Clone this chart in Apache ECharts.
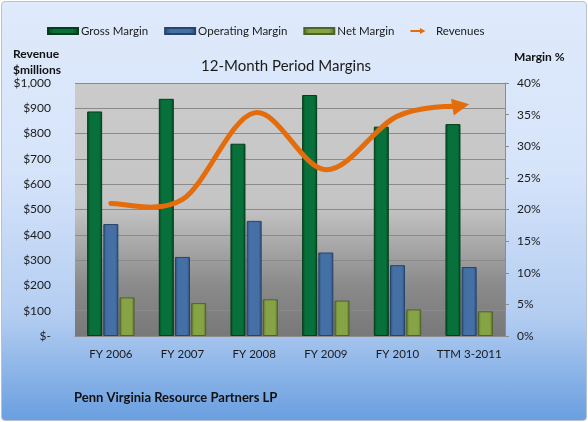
<!DOCTYPE html>
<html><head><meta charset="utf-8">
<script src="https://cdn.jsdelivr.net/npm/echarts@6/dist/echarts.min.js"></script>
<style>
html,body{margin:0;padding:0;background:#fff;}
#wrap{position:absolute;left:1px;top:1px;width:584px;height:418px;border:1px solid #b9c3cf;border-radius:4px;
background:linear-gradient(to bottom,#dfeafb 0%,#d6e4fa 40%,#b3cdf1 75%,#6a9fe0 100%);}
#c{width:586px;height:420px;position:absolute;left:-1px;top:-1px;}
</style></head>
<body><div id="wrap"><div id="c"></div></div>
<script>
const categories = ['FY 2006','FY 2007','FY 2008','FY 2009','FY 2010','TTM 3-2011'];
const grossMargin = [35.5, 37.5, 30.4, 38.1, 33.1, 33.5];
const operatingMargin = [17.7, 12.5, 18.2, 13.2, 11.2, 10.9];
const netMargin = [6.1, 5.2, 5.8, 5.6, 4.2, 3.9];
const revenues = [524, 540, 882, 657, 869, 916];
const revenueTicks = [0,100,200,300,400,500,600,700,800,900,1000];
const marginTicks = [0,5,10,15,20,25,30,35,40];

const FONT = 'Lato, "Open Sans", sans-serif';
const ORANGE = '#e46c0a';
function hgrad(edge, mid){
  return new echarts.graphic.LinearGradient(0,0,1,0,[
    {offset:0,color:edge},{offset:0.2,color:mid},{offset:0.8,color:mid},{offset:1,color:edge}]);
}
// Smooth revenue curve (Catmull-Rom through the scaled data points) ending with an arrow head
function renderRevenue(params, api){
  if (params.dataIndex !== 0) return null;
  const P = revenues.map((v,i)=>api.coord([i, v]));
  const n = P.length;
  const g = i => P[Math.max(0, Math.min(n-1, i))];
  const last = P[n-1], prev = P[n-2];
  let dx = last[0]-prev[0], dy = last[1]-prev[1];
  const L = Math.hypot(dx, dy); dx/=L; dy/=L;
  const headLen = 17, headHalf = 8.5;
  const base = [last[0]-dx*headLen*0.7, last[1]-dy*headLen*0.7];
  let d = 'M'+P[0][0]+','+P[0][1];
  for (let i=0;i<n-1;i++){
    const p0=g(i-1), p1=g(i), p2=g(i+1), p3=g(i+2);
    const c1=[p1[0]+(p2[0]-p0[0])/6, p1[1]+(p2[1]-p0[1])/6];
    const c2=[p2[0]-(p3[0]-p1[0])/6, p2[1]-(p3[1]-p1[1])/6];
    const e = (i===n-2) ? base : p2;
    d += ' C'+c1[0]+','+c1[1]+' '+c2[0]+','+c2[1]+' '+e[0]+','+e[1];
  }
  const hb = [last[0]-dx*headLen, last[1]-dy*headLen];
  const nx = -dy, ny = dx;
  return {type:'group', children:[
    {type:'path', shape:{pathData:d}, style:{fill:'none', stroke:ORANGE, lineWidth:5, lineCap:'round', lineJoin:'round'}},
    {type:'polygon', shape:{points:[last,[hb[0]+nx*headHalf,hb[1]+ny*headHalf],[hb[0]-nx*headHalf,hb[1]-ny*headHalf]]}, style:{fill:ORANGE}}
  ]};
}
const chart = echarts.init(document.getElementById('c'), null, {renderer:'canvas'});
chart.setOption({
  backgroundColor:'transparent',
  textStyle:{fontFamily:FONT},
  animation:false,
  legend:{
    left:41, top:19, itemWidth:30, itemHeight:6, itemGap:16,
    textStyle:{fontFamily:FONT,fontSize:11.5,color:'#1a1a1a',padding:[0,0,0,-2]},
    data:[
      {name:'Gross Margin',icon:'rect'},
      {name:'Operating Margin',icon:'rect'},
      {name:'Net Margin',icon:'rect'},
      {name:'Revenues',icon:'path://M0,4 L19,4 L19,0 L30,6 L19,12 L19,8 L0,8 Z', itemStyle:{color:ORANGE}}
    ]
  },
  title:[
    {text:'12-Month Period Margins',left:200,top:58,padding:0,textStyle:{fontFamily:FONT,fontSize:15,fontWeight:'normal',color:'#1a1a1a'}}
  ],
  graphic:[
    {type:'text',left:12,top:45,style:{text:'Revenue\n$millions',font:'bold 12px '+FONT,fill:'#111',lineHeight:16}},
    {type:'text',left:513,top:50,style:{text:'Margin %',font:'bold 12px '+FONT,fill:'#111'}},
    {type:'text',left:73,top:390,style:{text:'Penn Virginia Resource Partners LP',font:'bold 13px '+FONT,fill:'#111'}}
  ],
  grid:{left:74,right:82,top:82,bottom:85,show:true,borderWidth:0,
    backgroundColor:new echarts.graphic.LinearGradient(0,0,0,1,[
      {offset:0,color:'#cbcbcb'},{offset:0.46,color:'#c5c5c5'},{offset:0.5,color:'#c2c2c2'},
      {offset:0.8,color:'#8a8a8a'},{offset:1,color:'#787878'}])},
  xAxis:{type:'category',data:categories,
    axisLine:{lineStyle:{color:'#8c8c8c',width:1}},
    axisTick:{show:false},
    axisLabel:{fontFamily:FONT,fontSize:11.5,color:'#1a1a1a',margin:12,interval:0}},
  yAxis:[
    {type:'value',min:revenueTicks[0],max:revenueTicks[revenueTicks.length-1],interval:100,
      axisLine:{show:false},axisTick:{show:false},
      splitLine:{lineStyle:{color:'#8a8a8a',width:1}},
      axisLabel:{fontFamily:FONT,fontSize:12,color:'#1a1a1a',margin:24,
        formatter:v=> v===0 ? '$-' : '$'+v.toLocaleString('en-US')}},
    {type:'value',min:marginTicks[0],max:marginTicks[marginTicks.length-1],interval:5,position:'right',
      axisLine:{show:true,lineStyle:{color:'#8c8c8c'}},
      axisTick:{show:true,length:4,lineStyle:{color:'#8c8c8c'}},
      splitLine:{show:false},
      axisLabel:{fontFamily:FONT,fontSize:12,color:'#1a1a1a',margin:12,formatter:v=>v+'%'}}
  ],
  series:[
    {name:'Gross Margin',type:'bar',yAxisIndex:1,data:grossMargin,barWidth:15,barGap:'8%',
      itemStyle:{color:hgrad('#04471f','#08703a'),borderColor:'#043d1b',borderWidth:1}},
    {name:'Operating Margin',type:'bar',yAxisIndex:1,data:operatingMargin,barWidth:15,barGap:'8%',
      itemStyle:{color:hgrad('#2b4c78','#4470a6'),borderColor:'#27446b',borderWidth:1}},
    {name:'Net Margin',type:'bar',yAxisIndex:1,data:netMargin,barWidth:15,barGap:'8%',
      itemStyle:{color:hgrad('#5a7030','#86a346'),borderColor:'#4f6329',borderWidth:1}},
    {name:'Revenues',type:'custom',yAxisIndex:0,data:revenues.map((v,i)=>[i,v]),
      encode:{x:0,y:1},renderItem:renderRevenue,itemStyle:{color:ORANGE},z:5}
  ]
});
</script></body></html>
